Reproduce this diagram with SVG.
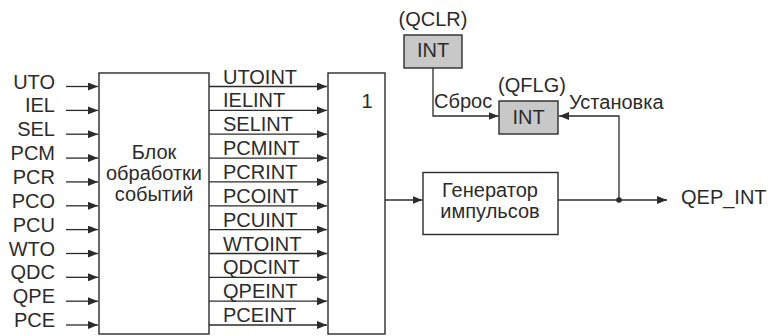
<svg xmlns="http://www.w3.org/2000/svg" width="771" height="336" viewBox="0 0 771 336">
<defs>
<marker id="arr" viewBox="0 0 10 8" refX="10" refY="4" markerWidth="10" markerHeight="8" markerUnits="userSpaceOnUse" orient="auto">
<path d="M0,0 L10,4 L0,8 Z" fill="#2b2b2b"/>
</marker>
<style>
.t{font-family:"Liberation Sans",Arial,sans-serif;font-size:20px;fill:#2b2b2b}
.e{text-anchor:end}
.m{text-anchor:middle}
.box{fill:#fff;stroke:#2b2b2b;stroke-width:1.4}
.reg{fill:#c8c8c8;stroke:#2b2b2b;stroke-width:1.4}
.ln{fill:none;stroke:#2b2b2b;stroke-width:1.3;marker-end:url(#arr)}
.pl{fill:none;stroke:#2b2b2b;stroke-width:1.3}
</style>
</defs>
<rect width="771" height="336" fill="#fff"/>

<g id="connectors">
<path class="ln" d="M66,86.5H98"/>
<path class="ln" d="M66,110.4H98"/>
<path class="ln" d="M66,134.2H98"/>
<path class="ln" d="M66,158.1H98"/>
<path class="ln" d="M66,181.9H98"/>
<path class="ln" d="M66,205.8H98"/>
<path class="ln" d="M66,229.6H98"/>
<path class="ln" d="M66,253.5H98"/>
<path class="ln" d="M66,277.3H98"/>
<path class="ln" d="M66,301.2H98"/>
<path class="ln" d="M66,325H98"/>

<path class="ln" d="M209,86.5H327"/>
<path class="ln" d="M209,110.4H327"/>
<path class="ln" d="M209,134.2H327"/>
<path class="ln" d="M209,158.1H327"/>
<path class="ln" d="M209,181.9H327"/>
<path class="ln" d="M209,205.8H327"/>
<path class="ln" d="M209,229.6H327"/>
<path class="ln" d="M209,253.5H327"/>
<path class="ln" d="M209,277.3H327"/>
<path class="ln" d="M209,301.2H327"/>
<path class="ln" d="M209,325H327"/>

<path class="ln" d="M385,200H422.5"/>
<path class="ln" d="M558,200H667"/>
<path class="ln" d="M619,200V116H559"/>
<path class="ln" d="M433,68V116H498.5"/>
<circle cx="619" cy="200" r="2.8" fill="#2b2b2b"/>

<text class="t" x="223" y="83.5">UTOINT</text>
<text class="t" x="223" y="107.4">IELINT</text>
<text class="t" x="223" y="131.2">SELINT</text>
<text class="t" x="223" y="155.1">PCMINT</text>
<text class="t" x="223" y="178.9">PCRINT</text>
<text class="t" x="223" y="202.8">PCOINT</text>
<text class="t" x="223" y="226.6">PCUINT</text>
<text class="t" x="223" y="250.5">WTOINT</text>
<text class="t" x="223" y="274.3">QDCINT</text>
<text class="t" x="223" y="298.2">QPEINT</text>
<text class="t" x="223" y="322">PCEINT</text>
<text class="t" x="434" y="108">Сброс</text>
<text class="t" x="569" y="109">Установка</text>
</g>

<g id="inputs">
<text class="t e" x="55" y="88.5">UTO</text>
<text class="t e" x="55" y="112.4">IEL</text>
<text class="t e" x="55" y="136.2">SEL</text>
<text class="t e" x="55" y="160.1">PCM</text>
<text class="t e" x="55" y="183.9">PCR</text>
<text class="t e" x="55" y="207.8">PCO</text>
<text class="t e" x="55" y="231.6">PCU</text>
<text class="t e" x="55" y="255.5">WTO</text>
<text class="t e" x="55" y="279.3">QDC</text>
<text class="t e" x="55" y="303.2">QPE</text>
<text class="t e" x="55" y="327">PCE</text>
</g>

<g id="event-block">
<rect class="box" x="99" y="73" width="110" height="261"/>
<text class="t m" x="154" y="159">Блок</text>
<text class="t m" x="154" y="180">обработки</text>
<text class="t m" x="154" y="201">событий</text>
</g>

<g id="or-block">
<rect class="box" x="328" y="73" width="57" height="261"/>
<text class="t m" x="367" y="108">1</text>
</g>

<g id="generator">
<rect class="box" x="423" y="172.5" width="135" height="62"/>
<text class="t m" x="490" y="197">Генератор</text>
<text class="t m" x="490" y="217.5">импульсов</text>
</g>

<g id="qclr">
<text class="t m" x="433" y="25.5">(QCLR)</text>
<rect class="reg" x="404" y="35" width="58" height="33"/>
<text class="t m" x="433" y="57">INT</text>
</g>

<g id="qflg">
<text class="t m" x="532" y="92">(QFLG)</text>
<rect class="reg" x="499" y="101" width="59" height="33"/>
<text class="t m" x="528.5" y="123.5">INT</text>
</g>

<g id="qep-int">
<text class="t" x="681" y="204">QEP_INT</text>
</g>
</svg>
